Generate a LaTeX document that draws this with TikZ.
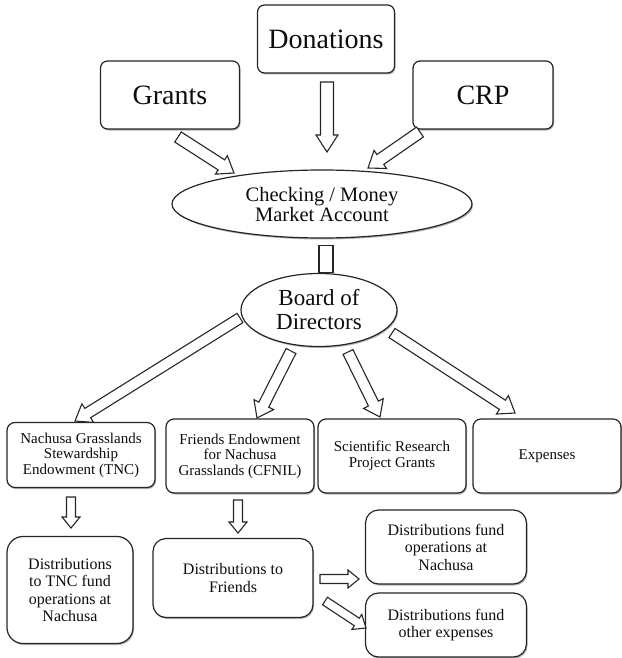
\documentclass[tikz,border=0pt]{standalone}
\usepackage{fontspec}
\setmainfont{Liberation Serif}
\usetikzlibrary{shapes.geometric,calc,shadows}

% hollow block arrow: shaft half-width, head half-width, head length, tail, tip
\newcommand{\blockarrow}[5]{%
  \path (#4) coordinate (ba-s) (#5) coordinate (ba-e);
  \path ($(ba-e)!#3!(ba-s)$) coordinate (ba-h);
  \draw[arrowline] ($(ba-s)!#1!90:(ba-e)$) -- ($(ba-h)!#1!-90:(ba-s)$) -- ($(ba-h)!#2!-90:(ba-s)$) -- (ba-e)
    -- ($(ba-h)!#2!90:(ba-s)$) -- ($(ba-h)!#1!90:(ba-s)$) -- ($(ba-s)!#1!-90:(ba-e)$) -- cycle;
}

\begin{document}
\begin{tikzpicture}[x=1pt,y=-1pt,
  every node/.style={text=black!95},
  box/.style={draw=black!85, line width=1.2pt, fill=white, rounded corners=7pt, align=center,
    inner sep=0pt, drop shadow={shadow xshift=1pt, shadow yshift=-1.5pt, opacity=.3, fill=black}},
  oval/.style={box, ellipse, rounded corners=0pt},
  arrowline/.style={draw=black!85, line width=1.1pt, fill=white, line join=miter}]
\useasboundingbox (0,0) rectangle (621,658);

% sources
\node[box, minimum width=139pt, minimum height=68pt, font=\fontsize{28}{30}\selectfont] (grants) at (170,95) {Grants};
\node[box, minimum width=137pt, minimum height=68pt, font=\fontsize{28}{30}\selectfont] (donations) at (326,39) {Donations};
\node[box, minimum width=140pt, minimum height=68pt, font=\fontsize{28}{30}\selectfont] (crp) at (483,95) {CRP};

% accounts
\node[oval, minimum width=300pt, minimum height=68pt, font=\fontsize{20.5}{20}\selectfont] (checking) at (322,204) {Checking / Money\\Market Account};
\node[oval, minimum width=156pt, minimum height=73pt, font=\fontsize{23}{24}\selectfont] (board) at (319,310) {Board of\\Directors};

% endowments and uses
\tikzset{usebox/.style={box, rounded corners=8pt, minimum width=148pt, minimum height=74pt, font=\fontsize{15}{15.5}\selectfont}}
\node[usebox, minimum height=65pt] (tnc) at (81,455) {Nachusa Grasslands\\Stewardship\\Endowment (TNC)};
\node[usebox] (friends) at (240,456) {Friends Endowment\\for Nachusa\\Grasslands (CFNIL)};
\node[usebox] (research) at (392,456) {Scientific Research\\Project Grants};
\node[usebox] (expenses) at (547,456) {Expenses};

% distributions
\tikzset{distbox/.style={box, rounded corners=13pt, minimum width=161pt, minimum height=74pt, font=\fontsize{16}{17.5}\selectfont}}
\node[distbox, minimum width=126pt, minimum height=107pt, rounded corners=16pt] (disttnc) at (70,590) {Distributions\\to TNC fund\\operations at\\Nachusa};
\node[distbox, minimum width=160pt, minimum height=79pt] (distfriends) at (233,578) {Distributions to\\Friends};
\node[distbox] (distops) at (446,547) {Distributions fund\\operations at\\Nachusa};
\node[distbox, minimum height=64pt] (distother) at (446,625) {Distributions fund\\other expenses};

% arrow ends
\coordinate (grants-out) at (178,137);     \coordinate (checking-in1) at (234,173);
\coordinate (donations-out) at (327,82);   \coordinate (checking-in2) at (327,152);
\coordinate (crp-out) at (420,132);        \coordinate (checking-in3) at (368,168);
\coordinate (board-out1) at (240,318);     \coordinate (tnc-in) at (75,421);
\coordinate (board-out2) at (291,351);     \coordinate (friends-in) at (257,418);
\coordinate (board-out3) at (348,352);     \coordinate (research-in) at (380,417);
\coordinate (board-out4) at (392,333);     \coordinate (expenses-in) at (515,413);
\coordinate (tnc-out) at (71,497);         \coordinate (disttnc-in) at (71,528);
\coordinate (friends-out) at (238,500);    \coordinate (distfriends-in) at (238,533);
\coordinate (distfriends-out1) at (320,579); \coordinate (distops-in) at (359,579);
\coordinate (distfriends-out2) at (325,601); \coordinate (distother-in) at (366,628);

% block arrows
\blockarrow{6pt}{11pt}{15pt}{grants-out}{checking-in1}
\blockarrow{6.5pt}{11pt}{17pt}{donations-out}{checking-in2}
\blockarrow{6pt}{11pt}{15pt}{crp-out}{checking-in3}
\draw[arrowline] ($(checking.south)+(-3,7)$) rectangle ($(board.north)+(14,0)$);
\foreach \a/\b in {board-out1/tnc-in, board-out2/friends-in, board-out3/research-in, board-out4/expenses-in}
  \blockarrow{5.5pt}{11pt}{15pt}{\a}{\b};
\foreach \a/\b in {tnc-out/disttnc-in, friends-out/distfriends-in, distfriends-out1/distops-in, distfriends-out2/distother-in}
  \blockarrow{4.5pt}{9pt}{11pt}{\a}{\b};
\end{tikzpicture}
\end{document}
